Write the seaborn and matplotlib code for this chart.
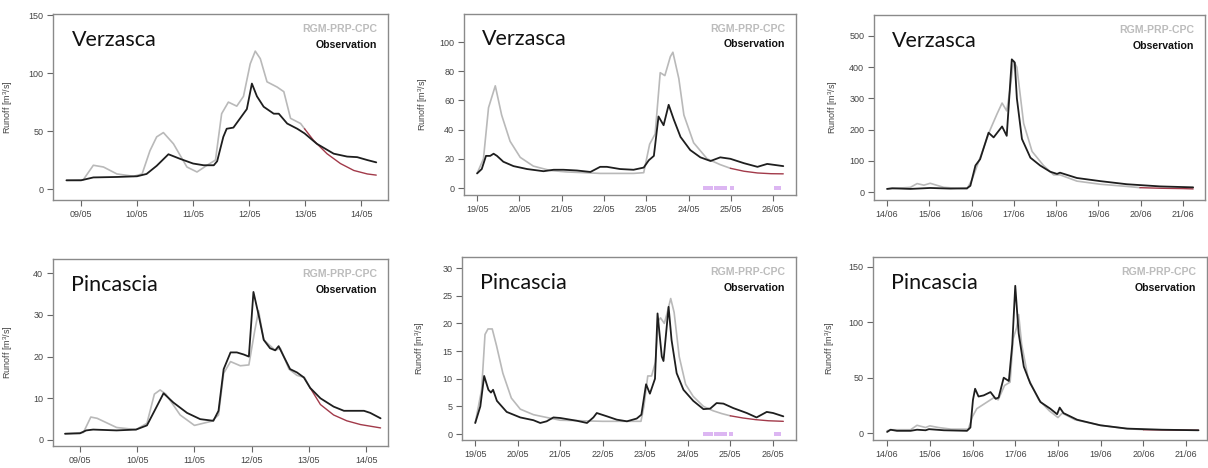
import matplotlib
matplotlib.use("Agg")
import matplotlib.pyplot as plt
import seaborn as sns
import numpy as np
import pandas as pd

# ---- Verzasca, 08/05 - 14/05 (x = days from first tick)
v1_obs_t = [-0.26, 0, 0.22, 0.64, 1.0, 1.17, 1.35, 1.56, 1.77, 2.0, 2.19, 2.37, 2.43, 2.54, 2.60, 2.72, 2.84, 2.96,
            3.05, 3.14, 3.26, 3.44, 3.53, 3.68, 3.86, 3.99, 4.21, 4.51, 4.75, 4.93, 5.11, 5.27]
v1_obs_q = [7.5, 7.5, 10, 10.4, 11, 13, 20, 30, 26, 22, 20.5, 20.5, 24, 45, 52, 53, 61, 69,
            91, 80, 71, 65, 65, 56.5, 52, 48, 39, 30.5, 28, 27.5, 25, 23]
v1_sim_t = [-0.26, 0.04, 0.22, 0.40, 0.64, 0.94, 1.09, 1.23, 1.35, 1.47, 1.65, 1.89, 2.07, 2.25, 2.40, 2.51, 2.63,
            2.78, 2.90, 3.02, 3.11, 3.20, 3.32, 3.50, 3.62, 3.74, 3.92, 3.99]
v1_sim_q = [7.5, 8, 20.5, 19, 13, 11, 13, 33, 45, 48.7, 39, 19, 14.7, 20.5, 25, 65, 75,
            71.5, 80, 108, 119, 112.5, 92.5, 88, 84, 61, 56.5, 52]
v1_tail_t = [3.99, 4.15, 4.39, 4.63, 4.87, 5.11, 5.27]
v1_tail_q = [52, 42, 30.5, 22, 16, 13, 12]

# ---- Verzasca, 19/05 - 26/05
v2_obs_t = [0, 0.11, 0.21, 0.31, 0.39, 0.47, 0.62, 0.86, 1.18, 1.57, 1.81, 2.04, 2.36, 2.68, 2.91, 3.07, 3.38,
            3.70, 3.94, 4.06, 4.18, 4.29, 4.41, 4.53, 4.65, 4.81, 5.04, 5.28, 5.52, 5.75, 5.99, 6.31, 6.63,
            6.86, 7.24]
v2_obs_q = [10, 13, 22, 22, 23.5, 22, 18, 15, 13, 11.5, 12.5, 12.5, 12, 11, 14.5, 14.5, 13,
            12.5, 14, 19, 22, 49, 43, 57, 47, 35, 26, 21, 18.5, 21, 20, 17, 14.5,
            16.5, 15]
v2_sim_t = [0, 0.15, 0.27, 0.43, 0.58, 0.78, 1.02, 1.33, 1.73, 2.12, 2.91, 3.70, 3.94, 4.08, 4.21, 4.33, 4.44,
            4.57, 4.63, 4.77, 4.89, 5.12, 5.44, 5.75, 5.99]
v2_sim_q = [10, 20, 55, 70, 50, 32, 21, 15, 12, 11, 10, 10, 10.5, 30, 37, 79, 77,
            90, 93, 75, 50, 31, 20, 16, 13.5]
v2_tail_t = [5.99, 6.31, 6.63, 6.95, 7.24]
v2_tail_q = [13.5, 11.5, 10.3, 9.8, 9.7]

# ---- Verzasca, 14/06 - 21/06
v3_obs_t = [0, 0.12, 0.55, 1.02, 1.50, 1.89, 1.97, 2.09, 2.20, 2.40, 2.52, 2.72, 2.83, 2.95, 3.02, 3.07, 3.19,
            3.39, 3.62, 3.86, 4.02, 4.09, 4.49, 5.04, 5.67, 6.46, 7.24]
v3_obs_q = [10, 12, 10, 13, 11, 12, 20, 85, 105, 190, 175, 210, 180, 425, 415, 300, 170,
            110, 85, 65, 58, 62, 45, 35, 25, 18, 15]
v3_sim_t = [0, 0.55, 0.71, 0.87, 1.02, 1.34, 1.89, 2.01, 2.20, 2.44, 2.60, 2.72, 2.83, 2.91, 2.99, 3.07, 3.23,
            3.43, 3.70, 3.94, 4.09, 4.49, 5.04, 5.67, 5.98]
v3_sim_q = [10, 15, 27, 22, 28, 15, 10, 40, 110, 200, 250, 285, 260, 330, 420, 400, 220,
            130, 85, 55, 55, 35, 25, 18, 14]
v3_tail_t = [5.98, 6.5, 7.0, 7.24]
v3_tail_q = [14, 12, 11, 10]

# ---- Pincascia, 08/05 - 14/05
p1_obs_t = [-0.26, 0, 0.11, 0.23, 0.64, 0.98, 1.17, 1.34, 1.46, 1.63, 1.87, 2.10, 2.33, 2.42, 2.51, 2.63, 2.74,
            2.86, 2.95, 3.03, 3.12, 3.21, 3.32, 3.41, 3.47, 3.56, 3.67, 3.79, 3.91, 4.02, 4.20, 4.43, 4.61,
            4.84, 4.96, 5.07, 5.25]
p1_obs_q = [1.5, 1.6, 2.3, 2.5, 2.3, 2.5, 3.5, 8, 11.2, 9, 6.5, 5, 4.6, 7, 17, 21, 21,
            20.5, 20, 35.5, 30, 24, 22, 21.5, 22.5, 20, 17, 16.2, 15, 12.5, 10, 8, 7,
            7, 7, 6.5, 5.2]
p1_sim_t = [-0.26, 0.06, 0.19, 0.30, 0.64, 0.98, 1.17, 1.30, 1.40, 1.50, 1.75, 2.00, 2.30, 2.42, 2.51, 2.63, 2.80,
            2.95, 3.05, 3.12, 3.21, 3.41, 3.50, 3.65, 3.79, 3.92, 4.02]
p1_sim_q = [1.5, 1.8, 5.5, 5.2, 3, 2.5, 4, 11, 12, 11, 6, 3.5, 4.5, 6, 16, 18.8, 17.8,
            18, 26, 31, 24, 21.5, 22, 17, 15.5, 15, 12.5]
p1_tail_t = [4.02, 4.20, 4.43, 4.66, 4.90, 5.25]
p1_tail_q = [12.5, 8.5, 6, 4.6, 3.7, 2.9]

# ---- Pincascia, 19/05 - 26/05
p2_obs_t = [0, 0.12, 0.21, 0.31, 0.37, 0.42, 0.51, 0.74, 1.06, 1.37, 1.53, 1.68, 1.84, 2.0, 2.39, 2.63, 2.78,
            2.86, 3.10, 3.33, 3.57, 3.80, 3.91, 4.02, 4.11, 4.23, 4.29, 4.39, 4.43, 4.55, 4.62, 4.74, 4.90,
            5.13, 5.37, 5.53, 5.68, 5.84, 6.07, 6.39, 6.62, 6.86, 7.01, 7.25]
p2_obs_q = [2, 5, 10.5, 8, 7.5, 8, 6, 4, 3, 2.5, 2, 2.3, 3, 2.9, 2.4, 2, 3,
            3.8, 3.2, 2.6, 2.3, 2.8, 3.5, 9, 7.3, 10, 21.8, 14, 13.2, 23, 17, 11, 8,
            6, 4.5, 4.6, 5.6, 5.5, 4.7, 3.8, 3.0, 4, 3.8, 3.2]
p2_sim_t = [0, 0.15, 0.23, 0.30, 0.40, 0.50, 0.65, 0.85, 1.06, 1.37, 1.68, 2.0, 3.0, 3.9, 3.97, 4.06, 4.15,
            4.24, 4.31, 4.36, 4.45, 4.52, 4.60, 4.68, 4.80, 4.95, 5.13, 5.37, 5.6, 5.8, 6.0]
p2_sim_q = [2, 8, 18, 19, 19, 16, 11, 6.5, 4.5, 3.5, 3, 2.5, 2.3, 2.3, 5, 10.5, 10.5,
            13, 20.5, 21, 20, 22, 24.5, 22, 14, 9, 6.8, 5, 4.2, 3.7, 3.3]
p2_tail_t = [6.0, 6.3, 6.6, 6.9, 7.25]
p2_tail_q = [3.3, 2.9, 2.6, 2.4, 2.3]

# ---- Pincascia, 14/06 - 21/06
p3_obs_t = [0, 0.08, 0.23, 0.55, 0.70, 0.90, 0.98, 1.33, 1.87, 1.95, 2.01, 2.06, 2.14, 2.26, 2.42, 2.54, 2.61,
            2.73, 2.85, 2.93, 3.00, 3.08, 3.20, 3.35, 3.59, 3.82, 3.98, 4.04, 4.13, 4.45, 4.99, 5.62, 6.43, 7.29]
p3_obs_q = [1, 3, 2, 2, 3, 2.5, 3.5, 2.5, 2, 5, 30, 40, 33, 34, 37, 31, 32,
            50, 47, 80, 133, 90, 60, 45, 28, 22, 17, 23, 18, 12, 7, 4, 3, 2.5]
p3_sim_t = [0, 0.1, 0.55, 0.7, 0.9, 1.0, 1.2, 1.5, 1.9, 2.0, 2.1, 2.3, 2.5, 2.6, 2.75, 2.88, 2.95,
            3.03, 3.08, 3.15, 3.3, 3.55, 3.8, 4.0, 4.1, 4.4, 5.0, 5.6, 6.0]
p3_sim_q = [2, 3, 3, 7, 5, 6.5, 5, 3.5, 3.5, 15, 22, 27, 32, 30, 43, 46, 85,
            95, 107, 80, 50, 30, 20, 14, 18, 12, 7, 4, 3]
p3_tail_t = [6.0, 6.5, 7.29]
p3_tail_q = [3, 2.8, 2.5]

# precipitation flags (19/05 - 26/05 period)
rain_t = [5.40, 5.47, 5.54, 5.66, 5.73, 5.80, 5.87, 6.03, 7.08, 7.14]

labels_may1 = ["09/05", "10/05", "11/05", "12/05", "13/05", "14/05"]
labels_may2 = ["19/05", "20/05", "21/05", "22/05", "23/05", "24/05", "25/05", "26/05"]
labels_jun = ["14/06", "15/06", "16/06", "17/06", "18/06", "19/06", "20/06", "21/06"]

c_obs = "#1e1e1e"
c_sim = "#b9b9b9"
c_tail = "#a23a4a"
c_rain = "#dcb6f2"

sns.set_theme(style="white")
plt.rcParams['font.family'] = ['Liberation Sans', 'DejaVu Sans']
plt.rcParams['mathtext.default'] = 'regular'

fig = plt.figure(figsize=(12.08, 4.68), dpi=100)


def draw_panel(rect, obs_t, obs_q, sim_t, sim_q, tail_t, tail_q, name, labels, xlim, ylim, yticks, labx, rain=False):
    ax = fig.add_axes(rect)
    sns.lineplot(x=sim_t, y=sim_q, ax=ax, color=c_sim, lw=1.2)
    sns.lineplot(x=tail_t, y=tail_q, ax=ax, color=c_tail, lw=1.0)
    sns.lineplot(x=obs_t, y=obs_q, ax=ax, color=c_obs, lw=1.3)
    if rain:
        sns.scatterplot(x=rain_t, y=[0] * len(rain_t), ax=ax, color=c_rain, marker='s', s=10, linewidth=0)
    ax.set_xlim(*xlim)
    ax.set_ylim(*ylim)
    ax.set_xticks(range(len(labels)))
    ax.set_xticklabels(labels)
    ax.set_yticks(yticks)
    ax.tick_params(axis='both', direction='out', length=4, width=0.8, color='#666666',
                   labelsize=6.5, labelcolor='#444444', pad=3, bottom=True, left=True)
    for s in ax.spines.values():
        s.set_color('#8a8a8a')
        s.set_linewidth(1.0)
    ax.set_ylabel("Runoff [m$^3$/s]", fontsize=6.5, color='#444444')
    ax.yaxis.set_label_coords(labx, 0.5)
    ax.text(0.055, 0.86, name, transform=ax.transAxes, fontsize=15.5, family=['Lato', 'DejaVu Sans'],
            color='#111111', va='center', ha='left')
    ax.text(0.967, 0.918, "RGM-PRP-CPC", transform=ax.transAxes, fontsize=7.6, fontweight='bold',
            color='#bcbcbc', ha='right', va='center')
    ax.text(0.967, 0.833, "Observation", transform=ax.transAxes, fontsize=7.6, fontweight='bold',
            color='#111111', ha='right', va='center')
    return ax


draw_panel([0.0439, 0.5726, 0.2773, 0.3974], v1_obs_t, v1_obs_q, v1_sim_t, v1_sim_q, v1_tail_t, v1_tail_q,
           "Verzasca", labels_may1, (-0.5, 5.48), (-9.5, 151), [0, 50, 100, 150], -0.113)
draw_panel([0.3841, 0.5833, 0.2748, 0.3868], v2_obs_t, v2_obs_q, v2_sim_t, v2_sim_q, v2_tail_t, v2_tail_q,
           "Verzasca", labels_may2, (-0.31, 7.54), (-4.8, 119.2), [0, 20, 40, 60, 80, 100], -0.102, rain=True)
draw_panel([0.7235, 0.5726, 0.2740, 0.3953], v3_obs_t, v3_obs_q, v3_sim_t, v3_sim_q, v3_tail_t, v3_tail_q,
           "Verzasca", labels_jun, (-0.31, 7.52), (-25.6, 567), [0, 100, 200, 300, 400, 500], -0.103)
draw_panel([0.0439, 0.0470, 0.2773, 0.3996], p1_obs_t, p1_obs_q, p1_sim_t, p1_sim_q, p1_tail_t, p1_tail_q,
           "Pincascia", labels_may1, (-0.47, 5.38), (-1.44, 43.4), [0, 10, 20, 30, 40], -0.113)
draw_panel([0.3825, 0.0598, 0.2765, 0.3910], p2_obs_t, p2_obs_q, p2_sim_t, p2_sim_q, p2_tail_t, p2_tail_q,
           "Pincascia", labels_may2, (-0.31, 7.55), (-1.08, 32), [0, 5, 10, 15, 20, 25, 30], -0.105, rain=True)
draw_panel([0.7227, 0.0598, 0.2765, 0.3910], p3_obs_t, p3_obs_q, p3_sim_t, p3_sim_q, p3_tail_t, p3_tail_q,
           "Pincascia", labels_jun, (-0.33, 7.49), (-6.3, 159), [0, 50, 100, 150], -0.108)

fig.savefig("out.png", dpi=100)
plt.close()
